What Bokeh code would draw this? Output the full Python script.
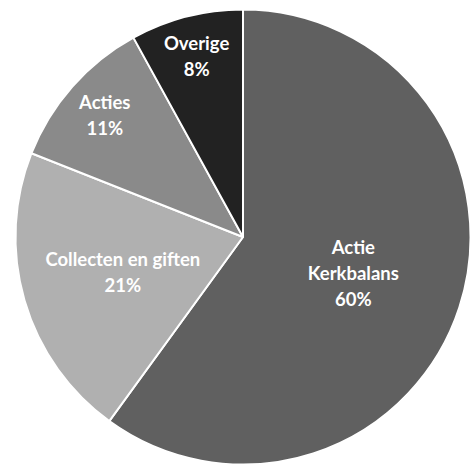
import math
from bokeh.plotting import figure
from bokeh.models import Range1d, ColumnDataSource
from bokeh.core.properties import value
from bokeh.embed import file_html
from bokeh.resources import INLINE

categories = ["Actie\nKerkbalans", "Collecten en giften", "Acties", "Overige"]
percentages = [60, 21, 11, 8]
colors = ["#606060", "#b0b0b0", "#8a8a8a", "#222222"]
label_radius_frac = [0.51, 0.55, 0.81, 0.82]

W, H = 471, 464
CX, CY = 242.5, 236.5
R = 227.5

start_angles, end_angles, lx, ly, labels = [], [], [], [], []
a = math.pi / 2
total = sum(percentages)
for cat, pct, f in zip(categories, percentages, label_radius_frac):
    sweep = 2 * math.pi * pct / total
    end = a
    start = a - sweep
    start_angles.append(start)
    end_angles.append(end)
    mid = (start + end) / 2
    lx.append(R * f * math.cos(mid))
    ly.append(R * f * math.sin(mid))
    labels.append(f"{cat}\n{pct}%")
    a = start

src = ColumnDataSource(dict(start=start_angles, end=end_angles, color=colors))
lsrc = ColumnDataSource(dict(x=lx, y=ly, text=labels))

p = figure(width=W, height=H, output_backend="svg", toolbar_location=None,
           x_range=Range1d(-CX, W - CX), y_range=Range1d(-(H - CY), CY),
           min_border=0, outline_line_color=None)
p.axis.visible = False
p.grid.visible = False
p.background_fill_color = "white"
p.border_fill_color = "white"

p.wedge(x=0, y=0, radius=R, start_angle="start", end_angle="end",
        fill_color="color", line_color="white", line_width=2, source=src)
p.text(x="x", y="y", text="text", source=lsrc, text_color="white",
       text_font=value("Lato"), text_font_style="bold", text_font_size="18.5px",
       text_align="center", text_baseline="middle", text_line_height=1.17)

open("out.html", "w").write(file_html(p, INLINE))
